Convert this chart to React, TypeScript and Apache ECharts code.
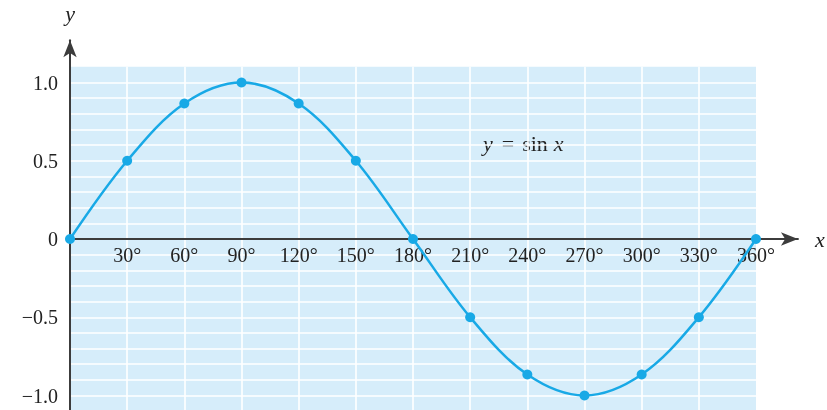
import React, { useEffect, useRef } from "react";
import * as echarts from "echarts";

const angles = [0, 30, 60, 90, 120, 150, 180, 210, 240, 270, 300, 330, 360];
const sineValues = [0, 0.5, 0.866, 1, 0.866, 0.5, 0, -0.5, -0.866, -1, -0.866, -0.5, 0];
const xTickValues = [30, 60, 90, 120, 150, 180, 210, 240, 270, 300, 330, 360];
const xTickLabels = ["30°", "60°", "90°", "120°", "150°", "180°", "210°", "240°", "270°", "300°", "330°", "360°"];
const yTickValues = [-1, -0.5, 0, 0.5, 1];
const yTickLabels = ["−1.0", "−0.5", "0", "0.5", "1.0"];

const FONT = "'Liberation Serif', 'Times New Roman', serif";

function lookup(values: number[], labels: string[], v: number): string {
  for (let i = 0; i < values.length; i++) {
    if (Math.abs(values[i] - v) < 1e-6) return labels[i];
  }
  return "";
}

export default function App() {
  const ref = useRef<HTMLDivElement>(null);
  useEffect(() => {
    if (!ref.current) return;
    const chart = echarts.init(ref.current, undefined, { renderer: "svg" });
    const pxPerUnitY = 156.5;
    const zeroY = 239;
    const left = 70;
    const w360 = 686;
    const xMax2 = 382;
    const yMax2 = 1.27;
    const yMin2 = -1.5;
    chart.setOption({
      animation: false,
      grid: [
        {
          left,
          top: zeroY - 1.1 * pxPerUnitY,
          width: w360,
          height: 2.2 * pxPerUnitY,
          show: true,
          backgroundColor: "#d6edfa",
          borderWidth: 0,
          containLabel: false,
          outerBoundsMode: "none",
        },
        {
          left,
          top: zeroY - yMax2 * pxPerUnitY,
          width: (xMax2 / 360) * w360,
          height: (yMax2 - yMin2) * pxPerUnitY,
          show: false,
          containLabel: false,
          outerBoundsMode: "none",
        },
      ],
      xAxis: [
        {
          gridIndex: 0,
          type: "value",
          min: 0,
          max: 360,
          interval: 30,
          axisLine: { show: false },
          axisTick: { show: false },
          axisLabel: { show: false },
          splitLine: { show: true, showMinLine: false, showMaxLine: false, lineStyle: { color: "#ffffff", width: 1.6 } },
        },
        {
          gridIndex: 1,
          type: "value",
          position: "bottom",
          offset: yMin2 * pxPerUnitY,
          min: 0,
          max: xMax2,
          interval: 30,
          axisLine: {
            show: true,
            onZero: false,
            symbol: ["none", "arrow"],
            symbolSize: [10, 17],
            lineStyle: { color: "#3c3c3c", width: 2 },
          },
          axisTick: { show: false },
          splitLine: { show: false },
          axisLabel: {
            interval: 0,
            margin: 6,
            fontFamily: FONT,
            fontSize: 20,
            color: "#222",
            formatter: (v: number) => lookup(xTickValues, xTickLabels, v),
          },
          name: "x",
          nameLocation: "end",
          nameGap: 17,
          nameTextStyle: { fontFamily: FONT, fontStyle: "italic", fontSize: 22, color: "#222" },
        },
      ],
      yAxis: [
        {
          gridIndex: 0,
          type: "value",
          min: -1.1,
          max: 1.1,
          interval: 0.1,
          axisLine: { show: false },
          axisTick: { show: false },
          axisLabel: { show: false },
          splitLine: { show: true, showMinLine: false, showMaxLine: false, lineStyle: { color: "#ffffff", width: 1.6 } },
        },
        {
          gridIndex: 1,
          type: "value",
          position: "left",
          min: yMin2,
          max: yMax2,
          interval: 0.5,
          axisLine: {
            show: true,
            onZero: false,
            symbol: ["none", "arrow"],
            symbolSize: [10, 17],
            lineStyle: { color: "#3c3c3c", width: 2 },
          },
          axisTick: { show: false },
          splitLine: { show: false },
          axisLabel: {
            margin: 12,
            fontFamily: FONT,
            fontSize: 20,
            color: "#222",
            formatter: (v: number) => lookup(yTickValues, yTickLabels, v),
          },
          name: "y",
          nameLocation: "end",
          nameGap: 16,
          nameTextStyle: { fontFamily: FONT, fontStyle: "italic", fontSize: 22, color: "#222", align: "center" },
        },
      ],
      series: [
        {
          type: "line",
          xAxisIndex: 0,
          yAxisIndex: 0,
          data: angles.map((a, i) => [a, sineValues[i]]),
          smooth: 0.35,
          clip: false,
          symbol: "circle",
          symbolSize: 10,
          showAllSymbol: true,
          lineStyle: { color: "#18a9e6", width: 2.5 },
          itemStyle: { color: "#18a9e6" },
          z: 5,
        },
      ],
      graphic: [
        {
          type: "text",
          left: 483,
          top: 132,
          style: {
            text: "{i|y}{e|=}{n|sin}{i|x}",
            fontFamily: FONT,
            fontSize: 22,
            fill: "#222",
            rich: {
              i: { fontFamily: FONT, fontStyle: "italic", fontSize: 22, fill: "#222" },
              e: { fontFamily: FONT, fontSize: 22, fill: "#222", padding: [0, 8, 0, 9] },
              n: { fontFamily: FONT, fontSize: 22, fill: "#222", padding: [0, 6, 0, 0] },
            },
          },
        },
      ],
    });
    return () => chart.dispose();
  }, []);
  return (
    <div
      ref={ref}
      style={{ position: "fixed", left: 0, top: 0, width: 827, height: 480 }}
    />
  );
}
